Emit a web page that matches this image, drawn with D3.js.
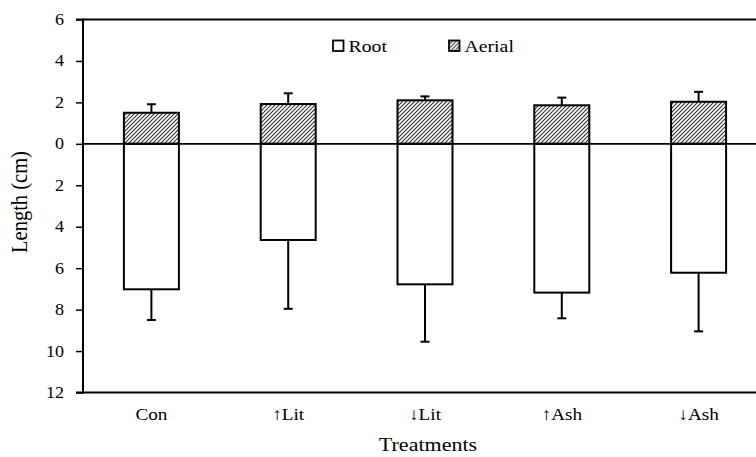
<!DOCTYPE html>
<html>
<head>
<meta charset="utf-8">
<script src="https://cdn.jsdelivr.net/npm/d3@7/dist/d3.min.js"></script>
<style>
  html, body { margin: 0; padding: 0; background: #fff; }
  svg { display: block; }
  svg text { font-family: "Liberation Serif", "Times New Roman", serif; fill: #000; }
</style>
</head>
<body>
<svg id="chart" width="756" height="457"></svg>
<script>
// Treatments and mean lengths (cm) with upper error values
const categories = ["Con", "\u2191Lit", "\u2193Lit", "\u2191Ash", "\u2193Ash"];
const aerial = [1.50, 1.92, 2.10, 1.86, 2.03];
const aerialErr = [0.41, 0.52, 0.19, 0.37, 0.48];
const root = [7.02, 4.64, 6.78, 7.18, 6.22];
const rootErr = [1.48, 3.32, 2.77, 1.24, 2.83];
const yTicks = [6, 4, 2, 0, 2, 4, 6, 8, 10, 12];
const yTickValues = [6, 4, 2, 0, -2, -4, -6, -8, -10, -12];

const svg = d3.select("#chart");
const margin = { left: 83, top: 19.5, right: -11, bottom: 64.5 };
const W = 756, H = 457;
const SX = 1.13; // horizontal widening of the serif text

const x = d3.scaleBand()
  .domain(categories)
  .range([margin.left, W - margin.right])
  .paddingInner(0.598)
  .paddingOuter(0.299);

// Aerial drawn upward, root drawn downward from zero
const y = d3.scaleLinear().domain([-12, 6]).range([H - margin.bottom, margin.top]);

// diagonal hatch fill
const defs = svg.append("defs");
const pat = defs.append("pattern")
  .attr("id", "hatch")
  .attr("patternUnits", "userSpaceOnUse")
  .attr("width", 4).attr("height", 4);
pat.append("rect").attr("width", 4).attr("height", 4).attr("fill", "#fff");
pat.append("path")
  .attr("d", "M-1,1 L1,-1 M0,4 L4,0 M3,5 L5,3")
  .attr("stroke", "#333").attr("stroke-width", 1.1);

// frame: top line at 6
svg.append("line")
  .attr("x1", margin.left).attr("x2", W)
  .attr("y1", y(6)).attr("y2", y(6))
  .attr("stroke", "#000").attr("stroke-width", 2);

// y axis (tick marks from d3, labels drawn below)
const yAxis = d3.axisLeft(y)
  .tickValues(yTickValues)
  .tickSize(7)
  .tickFormat("");
const gy = svg.append("g")
  .attr("transform", `translate(${margin.left},0)`)
  .call(yAxis);
gy.select(".domain").attr("stroke-width", 2).attr("d", `M-7,${y(6)}H0V${y(-12)}H-7`);
gy.selectAll(".tick line").attr("stroke-width", 1.5);
gy.selectAll(".tick text").remove();

svg.append("g").selectAll("text")
  .data(yTickValues)
  .join("text")
  .attr("transform", d => `translate(${margin.left - 19},${y(d) + 5.5}) scale(${SX},1)`)
  .attr("text-anchor", "end")
  .style("font-size", "16px")
  .text((d, i) => yTicks[i]);

// bottom axis line at -12
svg.append("line")
  .attr("x1", margin.left).attr("x2", W)
  .attr("y1", y(-12)).attr("y2", y(-12))
  .attr("stroke", "#000").attr("stroke-width", 2);

// error bars
function errBar(cx, yFrom, yTo) {
  svg.append("line")
    .attr("x1", cx).attr("x2", cx)
    .attr("y1", yFrom).attr("y2", yTo)
    .attr("stroke", "#000").attr("stroke-width", 2);
  svg.append("line")
    .attr("x1", cx - 4.5).attr("x2", cx + 4.5)
    .attr("y1", yTo).attr("y2", yTo)
    .attr("stroke", "#000").attr("stroke-width", 2);
}

categories.forEach((c, i) => {
  const cx = x(c) + x.bandwidth() / 2;
  errBar(cx, y(aerial[i]), y(aerial[i] + aerialErr[i]));
  errBar(cx, y(-root[i]), y(-(root[i] + rootErr[i])));
});

// aerial bars
svg.append("g").selectAll("rect")
  .data(categories)
  .join("rect")
  .attr("x", d => x(d))
  .attr("width", x.bandwidth())
  .attr("y", (d, i) => y(aerial[i]))
  .attr("height", (d, i) => y(0) - y(aerial[i]))
  .attr("fill", "url(#hatch)")
  .attr("stroke", "#000").attr("stroke-width", 2);

// root bars
svg.append("g").selectAll("rect")
  .data(categories)
  .join("rect")
  .attr("x", d => x(d))
  .attr("width", x.bandwidth())
  .attr("y", y(0))
  .attr("height", (d, i) => y(-root[i]) - y(0))
  .attr("fill", "#fff")
  .attr("stroke", "#000").attr("stroke-width", 2);

// zero line
svg.append("line")
  .attr("x1", margin.left).attr("x2", W)
  .attr("y1", y(0)).attr("y2", y(0))
  .attr("stroke", "#000").attr("stroke-width", 1.6);

// category labels
svg.append("g").selectAll("text")
  .data(categories)
  .join("text")
  .attr("transform", d => `translate(${x(d) + x.bandwidth() / 2},420) scale(${SX},1)`)
  .attr("text-anchor", "middle")
  .style("font-size", "17px")
  .text(d => d);

// axis titles
svg.append("text")
  .attr("transform", `translate(428,451) scale(${SX},1)`)
  .attr("text-anchor", "middle")
  .style("font-size", "19.5px")
  .text("Treatments");

svg.append("text")
  .attr("transform", `translate(27,202) rotate(-90) scale(1,${SX})`)
  .attr("text-anchor", "middle")
  .style("font-size", "20.5px")
  .text("Length (cm)");

// legend
const legend = [
  { label: "Root", fill: "#fff", x: 333 },
  { label: "Aerial", fill: "url(#hatch)", x: 449 }
];
const lg = svg.append("g").selectAll("g")
  .data(legend)
  .join("g")
  .attr("transform", d => `translate(${d.x},40.5)`);
lg.append("rect")
  .attr("width", 10.5).attr("height", 10.5)
  .attr("fill", d => d.fill)
  .attr("stroke", "#000").attr("stroke-width", 1.8);
lg.append("text")
  .attr("transform", `translate(15.5,11.5) scale(${SX},1)`)
  .style("font-size", "17.5px")
  .text(d => d.label);
</script>
</body>
</html>
